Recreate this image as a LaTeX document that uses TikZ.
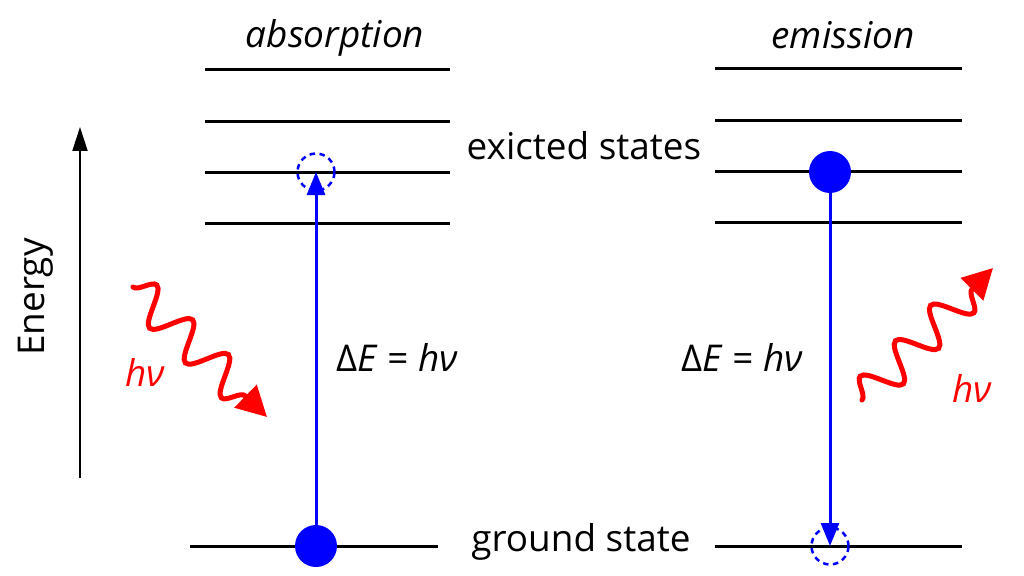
\documentclass[tikz,border=0pt]{standalone}
\usepackage{fontspec}
\setmainfont{Open Sans}
\usetikzlibrary{arrows.meta,decorations.pathmorphing}

\begin{document}
\begin{tikzpicture}[x=0.02cm, y=-0.02cm,
			every node/.style = {font=\fontsize{21}{25}\selectfont},
			level/.style = {line width=0.06cm},
			dot/.style = {circle, fill=blue, inner sep=0pt, minimum size=0.84cm},
			hole/.style = {circle, draw=blue, dash pattern=on 0.11cm off 0.09cm,
				line width=0.05cm, inner sep=0pt, minimum size=0.74cm},
			jump/.style = {blue, line width=0.06cm, -{Triangle[length=0.46cm, width=0.36cm]}},
			photon/.style = {red, line width=0.1cm, line cap=round,
				-{Triangle[length=0.6cm, width=0.62cm]},
				decorate, decoration={snake, amplitude=0.36cm, segment length=1.0cm,
				post length=0.5cm}}]
			\useasboundingbox (0,0) rectangle (1024,575);
			% energy levels
			\foreach \y in {69,121,172,223}
				\draw[level] (205,\y) -- (450,\y);
			\draw[level] (190,546) -- (438,546);
			\foreach \y in {68,120,171,222}
				\draw[level] (715,\y) -- (962,\y);
			\draw[level] (715,546) -- (962,546);
			% energy axis
			\coordinate (eLow) at (80,478);
			\coordinate (eHigh) at (80,127);
			\draw[line width=0.04cm, -{Triangle[length=0.48cm, width=0.3cm]}] (eLow) -- (eHigh);
			\node[rotate=90] (energy) at (36,297) {Energy};
			% electrons
			\node[dot] (gA) at (316,546) {};
			\node[hole] (exA) at (316,172) {};
			\node[dot] (exE) at (830,172) {};
			\node[hole] (gE) at (830,546) {};
			\draw[jump] (gA.center) -- (exA.center);
			\draw[jump] (exE.center) -- (gE.center);
			% labels
			\node (absorption) at (335,38) {\itshape absorption};
			\node (emission) at (843,35) {\itshape emission};
			\node (excited) at (584,146) {exicted states};
			\node (ground) at (581,542) {ground state};
			\node (dEa) at (397,357) {Δ\textit{E} = \textit{hν}};
			\node (dEe) at (742,357) {Δ\textit{E} = \textit{hν}};
			% photons
			\coordinate (inStart) at (133,287);
			\coordinate (inEnd) at (267,417);
			\coordinate (outStart) at (862,400);
			\coordinate (outEnd) at (993,268);
			\draw[photon] (inStart) -- (inEnd);
			\draw[photon] (outStart) -- (outEnd);
			\node[red] (hvIn) at (145,372) {\itshape hν};
			\node[red] (hvOut) at (972,388) {\itshape hν};
		\end{tikzpicture}
\end{document}
